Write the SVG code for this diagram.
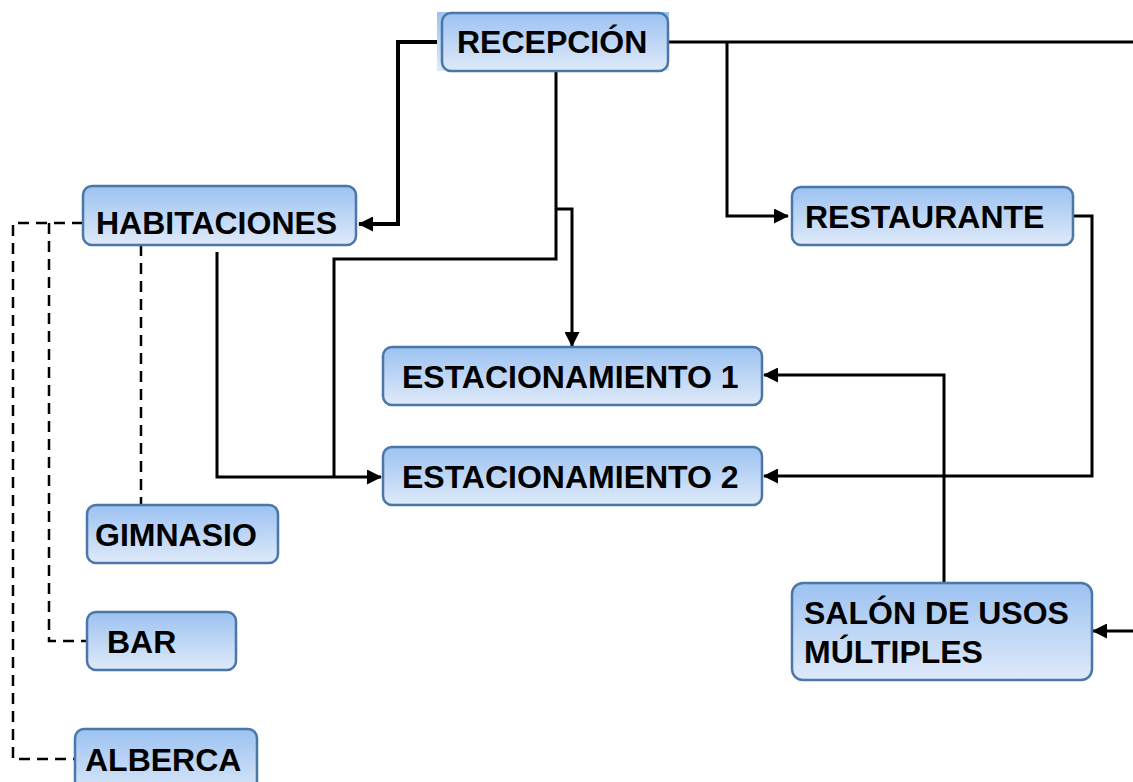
<svg xmlns="http://www.w3.org/2000/svg" width="1133" height="782" viewBox="0 0 1133 782">
<defs>
<linearGradient id="g" x1="0" y1="0" x2="0" y2="1">
<stop offset="0" stop-color="#9cc2f1"/>
<stop offset="1" stop-color="#dfeaf9"/>
</linearGradient>
<marker id="ah" markerUnits="userSpaceOnUse" markerWidth="15" markerHeight="15" viewBox="0 0 15 15" refX="14" refY="7.5" orient="auto">
<path d="M0,0 L15,7.5 L0,15 Z" fill="#000"/>
</marker>
<style>
.n{fill:url(#g);stroke:#4a76a8;stroke-width:2.5}
.t{font-family:"Liberation Sans",Arial,sans-serif;font-weight:bold;font-size:32px;fill:#000}
.c{fill:none;stroke:#000;stroke-width:3}
.d{fill:none;stroke:#000;stroke-width:2.5;stroke-dasharray:11,7}
</style>
</defs>
<rect width="1133" height="782" fill="#fff"/>
<g id="connectors">
<path class="c" style="stroke-width:4" d="M442,42 H398 V224 H359" marker-end="url(#ah)"/>
<path class="c" d="M668,42 H1133"/>
<path class="c" d="M727,42 V216 H788" marker-end="url(#ah)"/>
<path class="c" d="M556,71 V259 H334 V477"/>
<path class="c" d="M556,209 H572 V346" marker-end="url(#ah)"/>
<path class="c" d="M217,252 V477 H381" marker-end="url(#ah)"/>
<path class="c" d="M1073,216 H1092 V476 H764" marker-end="url(#ah)"/>
<path class="c" d="M944,583 V375 H764" marker-end="url(#ah)"/>
<path class="c" d="M1133,631 H1093" marker-end="url(#ah)"/>
<path class="d" d="M83,223 H13 V759 H75"/>
<path class="d" d="M49,223 V641 H87"/>
<path class="d" d="M141,245 V505"/>
</g>
<g id="recepcion">
<rect x="437" y="12" width="232" height="59" fill="url(#g)"/>
<rect class="n" x="442" y="13" width="226" height="58" rx="9"/>
<text class="t" x="457" y="53">RECEPCIÓN</text>
</g>
<g id="habitaciones">
<rect class="n" x="83" y="186" width="273" height="59" rx="9"/>
<text class="t" x="96" y="234">HABITACIONES</text>
</g>
<g id="restaurante">
<rect class="n" x="792" y="187" width="281" height="58" rx="9"/>
<text class="t" x="805" y="228">RESTAURANTE</text>
</g>
<g id="estacionamiento1">
<rect class="n" x="383" y="347" width="379" height="58" rx="9"/>
<text class="t" x="402" y="388">ESTACIONAMIENTO 1</text>
</g>
<g id="estacionamiento2">
<rect class="n" x="383" y="447" width="379" height="58" rx="9"/>
<text class="t" x="402" y="488">ESTACIONAMIENTO 2</text>
</g>
<g id="gimnasio">
<rect class="n" x="87" y="505" width="191" height="58" rx="9"/>
<text class="t" x="95" y="546">GIMNASIO</text>
</g>
<g id="bar">
<rect class="n" x="87" y="612" width="149" height="58" rx="9"/>
<text class="t" x="107" y="653">BAR</text>
</g>
<g id="alberca">
<rect class="n" x="75" y="729" width="182" height="70" rx="9"/>
<text class="t" x="85" y="771">ALBERCA</text>
</g>
<g id="salon">
<rect class="n" x="792" y="583" width="300" height="97" rx="11"/>
<text class="t" x="804" y="624">SALÓN DE USOS</text>
<text class="t" x="804" y="663">MÚLTIPLES</text>
</g>
</svg>
